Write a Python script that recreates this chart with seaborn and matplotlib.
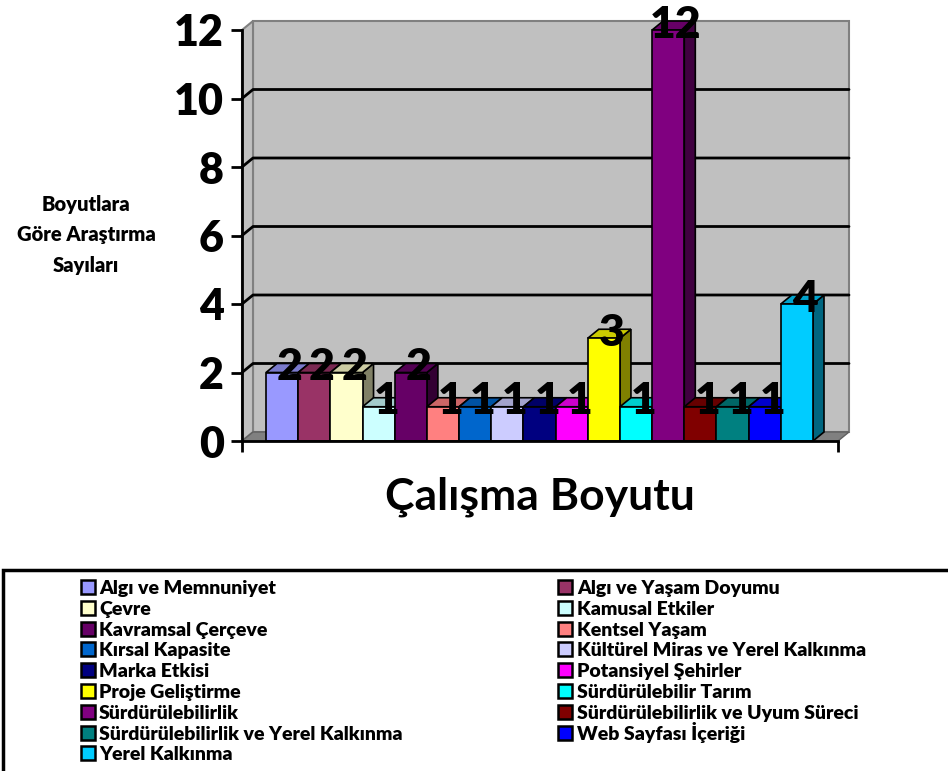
import numpy as np
import pandas as pd
import seaborn as sns
import matplotlib.pyplot as plt
from matplotlib.patches import Polygon, Rectangle
from matplotlib.lines import Line2D

sns.set_style("white")
plt.rcParams['font.family'] = ['Lato', 'DejaVu Sans']
plt.rcParams['font.weight'] = 'bold'
for k in ['text.color', 'axes.labelcolor', 'xtick.color', 'ytick.color']:
    plt.rcParams[k] = 'black'

# data
boyutlar = ["Algı ve Memnuniyet", "Algı ve Yaşam Doyumu", "Çevre", "Kamusal Etkiler",
            "Kavramsal Çerçeve", "Kentsel Yaşam", "Kırsal Kapasite",
            "Kültürel Miras ve Yerel Kalkınma", "Marka Etkisi", "Potansiyel Şehirler",
            "Proje Geliştirme", "Sürdürülebilir Tarım", "Sürdürülebilirlik",
            "Sürdürülebilirlik ve Uyum Süreci", "Sürdürülebilirlik ve Yerel Kalkınma",
            "Web Sayfası İçeriği", "Yerel Kalkınma"]
sayilar = [2, 2, 2, 1, 2, 1, 1, 1, 1, 1, 3, 1, 12, 1, 1, 1, 4]
renkler = ["#9999FF", "#993366", "#FFFFCC", "#CCFFFF", "#660066", "#FF8080", "#0066CC",
           "#CCCCFF", "#000080", "#FF00FF", "#FFFF00", "#00FFFF", "#800080", "#800000",
           "#008080", "#0000FF", "#00CCFF"]
y_ticks = [0, 2, 4, 6, 8, 10, 12]

df = pd.DataFrame({"grup": [""] * len(boyutlar), "Boyut": boyutlar, "Sayı": sayilar})

W, H = 948, 771
fig = plt.figure(figsize=(W / 100, H / 100), dpi=100)

# front plane of the Excel-style 3D chart, in pixels
left, right, bottom, top = 242, 838, 441, 30
ax = fig.add_axes([left / W, 1 - bottom / H, (right - left) / W, (bottom - top) / H])
ax.set_facecolor("none")

sns.barplot(data=df, x="grup", y="Sayı", hue="Boyut", palette=renkler, width=0.8,
            saturation=1, dodge=True, edgecolor="black", linewidth=1.2, legend=False, ax=ax)

px_per_unit = 547 / 0.8
xmin = -0.4 - 24 / px_per_unit
xmax = 0.4 + 25 / px_per_unit
ax.set_xlim(xmin, xmax)
ax.set_ylim(0, 12)
DX = 11 / px_per_unit
DY = 9 * 12 / (bottom - top)

# walls and floor
wall_c, edge_c = "#C0C0C0", "#808080"
ax.add_patch(Rectangle((xmin + DX, DY), xmax - xmin, 12, facecolor=wall_c,
                       edgecolor=edge_c, lw=1.5, clip_on=False, zorder=0))
ax.add_patch(Polygon([(xmin, 0), (xmin + DX, DY), (xmin + DX, 12 + DY), (xmin, 12)],
                     facecolor=wall_c, edgecolor=edge_c, lw=1.5, clip_on=False, zorder=0.5))
ax.add_patch(Polygon([(xmin, 0), (xmax, 0), (xmax + DX, DY), (xmin + DX, DY)],
                     facecolor="#808080", edgecolor="#606060", lw=1, clip_on=False, zorder=0.5))
for yv in y_ticks[1:-1]:
    ax.plot([xmin, xmin + DX, xmax + DX], [yv, yv + DY, yv + DY], color="black",
            lw=2, clip_on=False, zorder=1)

# 3D sides / tops for bars, painted left to right
bars = sorted([p for p in ax.patches if isinstance(p, Rectangle) and p.get_width() < 0.2],
              key=lambda p: p.get_x())
for i, (p, c, v) in enumerate(zip(bars, renkler, sayilar)):
    x0 = p.get_x()
    x1 = x0 + p.get_width()
    h = p.get_height()
    rgb = np.array(plt.matplotlib.colors.to_rgb(c))
    z = 2 + 3 * i
    ax.add_patch(Polygon([(x1, 0), (x1 + DX, DY), (x1 + DX, h + DY), (x1, h)],
                         facecolor=rgb * 0.5, edgecolor="black", lw=1.2,
                         clip_on=False, zorder=z))
    ax.add_patch(Polygon([(x0, h), (x1, h), (x1 + DX, h + DY), (x0 + DX, h + DY)],
                         facecolor=rgb * 0.8, edgecolor="black", lw=1.2,
                         clip_on=False, zorder=z))
    p.set_zorder(z + 1)
    p.set_clip_on(False)
    ax.text((x0 + x1) / 2 + DX * 0.7, h + DY * 0.6, str(v), ha="center", va="center",
            fontsize=32, fontweight="heavy", zorder=200)

# axes styling
sns.despine(ax=ax, top=True, right=True)
for s in ["left", "bottom"]:
    ax.spines[s].set_color("black")
    ax.spines[s].set_linewidth(2)
    ax.spines[s].set_zorder(150)
ax.set_yticks(y_ticks)
ax.set_yticklabels([str(t) for t in y_ticks], fontsize=31, fontweight="heavy")
ax.set_xticks([xmin, xmax])
ax.set_xticklabels(["", ""])
ax.tick_params(axis="both", direction="out", length=8, width=2, color="black",
               left=True, bottom=True, pad=5)
ax.set_xlabel("")
ax.set_ylabel("")

fig.text(540 / W, 1 - 497 / H, "Çalışma Boyutu", ha="center", va="center",
         fontsize=32, fontweight="bold")
fig.text(86 / W, 1 - 235 / H, "Boyutlara\nGöre Araştırma\nSayıları", ha="center",
         va="center", fontsize=14.5, fontweight="heavy", linespacing=1.72)

# legend, two columns filled row by row (as Excel does), fixed row pitch
col_marker_x = [88, 565]
col_text_x = [99, 577]
first_baseline, row_pitch = 594, 20.8
for i, (name, c) in enumerate(zip(boyutlar, renkler)):
    row, col = divmod(i, 2)
    yb = first_baseline + row * row_pitch
    fig.add_artist(Line2D([col_marker_x[col] / W], [1 - (yb - 7) / H],
                          transform=fig.transFigure, ls="none", marker="s",
                          markersize=9.5, markerfacecolor=c, markeredgecolor="black",
                          markeredgewidth=1.8))
    fig.text(col_text_x[col] / W, 1 - yb / H, name, ha="left", va="baseline",
             fontsize=14, fontweight="heavy")
fig.add_artist(Rectangle((3 / W, -0.05), 1.1, 1 - 570 / H + 0.05, transform=fig.transFigure,
                         facecolor="none", edgecolor="black", lw=2.5))

fig.savefig("out.png", dpi=100)
